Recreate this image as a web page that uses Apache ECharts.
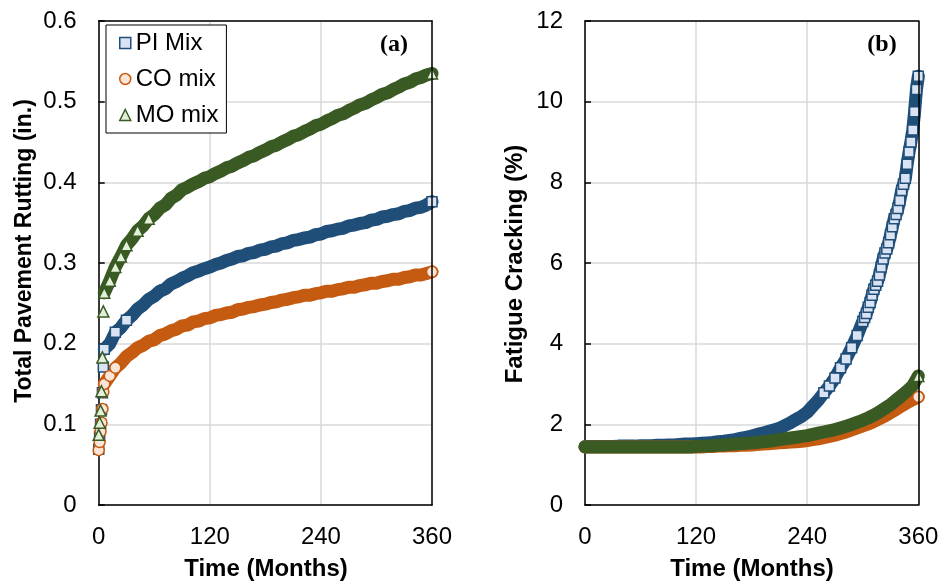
<!DOCTYPE html>
<html>
<head>
<meta charset="utf-8">
<script src="https://cdn.jsdelivr.net/npm/echarts@6.0.0/dist/echarts.min.js"></script>
<style>
html,body{margin:0;padding:0;background:#fff;}
#c{width:943px;height:584px;}
</style>
</head>
<body>
<div id="c"></div>
<script>
// ---------- DATA ----------
const seriesNames = ['PI Mix', 'CO mix', 'MO mix'];
const xTickLabels = [0, 120, 240, 360];

// (a) Total pavement rutting (in.)
const rutMonths = [0,1,2,3,4,5,6,12,18,24,30,36,42,48,54,60,66,72,78,84,90,96,102,108,114,120,126,132,138,144,150,156,162,168,174,180,186,192,198,204,210,216,222,228,234,240,246,252,258,264,270,276,282,288,294,300,306,312,318,324,330,336,342,348,354,360];
const rutPI = [0.069,0.085,0.100,0.118,0.139,0.171,0.193,
  0.200,0.214,0.220,0.229,0.235,0.243,0.248,0.255,0.259,0.265,
  0.268,0.274,0.277,0.281,0.284,0.288,0.290,0.293,0.295,0.298,
  0.300,0.303,0.305,0.308,0.309,0.312,0.313,0.316,0.317,0.320,
  0.321,0.324,0.325,0.328,0.329,0.331,0.332,0.335,0.336,0.339,
  0.340,0.342,0.343,0.346,0.347,0.349,0.350,0.353,0.354,0.357,
  0.358,0.360,0.361,0.364,0.365,0.368,0.369,0.372,0.376];
const rutCO = [0.068,0.078,0.091,0.102,0.119,0.140,0.150,
  0.160,0.170,0.176,0.184,0.189,0.195,0.198,0.203,0.205,0.210,
  0.212,0.216,0.218,0.222,0.223,0.227,0.228,0.231,0.232,0.235,
  0.236,0.238,0.239,0.242,0.243,0.245,0.246,0.248,0.249,0.251,
  0.252,0.254,0.255,0.257,0.258,0.260,0.260,0.262,0.263,0.265,
  0.265,0.267,0.268,0.270,0.270,0.272,0.273,0.275,0.275,0.277,
  0.278,0.280,0.280,0.282,0.283,0.285,0.285,0.287,0.289];
const rutMO = [0.087,0.102,0.117,0.141,0.183,0.240,0.263,
  0.278,0.295,0.308,0.322,0.330,0.340,0.346,0.355,0.360,0.368,
  0.372,0.380,0.384,0.391,0.394,0.398,0.401,0.405,0.407,0.411,
  0.414,0.418,0.420,0.424,0.427,0.431,0.433,0.437,0.440,0.444,
  0.446,0.450,0.453,0.457,0.459,0.463,0.466,0.470,0.472,0.476,
  0.479,0.483,0.485,0.489,0.492,0.496,0.498,0.502,0.505,0.509,
  0.511,0.515,0.518,0.522,0.524,0.528,0.530,0.533,0.535];

// (b) Fatigue cracking (%)
const crackMonths = [0,6,12,18,24,30,36,42,48,54,60,66,72,78,84,90,96,102,108,114,120,126,132,138,144,150,156,162,168,174,180,186,192,198,204,210,216,222,228,234,240,246,252,258,264,270,276,282,288,294,300,306,312,318,324,330,336,342,348,354,360];
const crackMonthsPI = [0,6,12,18,24,30,36,42,48,54,60,66,72,78,84,90,96,102,108,114,120,126,132,138,144,150,156,162,168,174,180,186,192,198,204,210,216,222,228,234,240,246,252,258,264,270,276,282,288,294,300,
  302,304,306,308,310,312,314,316,318,320,322,324,326,328,330,332,334,336,338,340,342,344,346,348,350,352,354,356,358,360];
const crackPI = [1.45,1.45,1.45,1.45,1.45,1.45,1.46,1.46,1.46,1.46,
  1.47,1.47,1.47,1.48,1.48,1.49,1.49,1.50,1.51,1.51,
  1.52,1.53,1.54,1.55,1.57,1.58,1.60,1.62,1.65,1.68,
  1.71,1.75,1.78,1.82,1.86,1.90,1.97,2.04,2.12,2.20,
  2.30,2.45,2.60,2.78,2.95,3.15,3.40,3.62,3.90,4.20,4.55,
  4.65,4.75,4.90,5.02,5.20,5.35,5.45,5.55,5.70,5.90,
  6.10,6.25,6.35,6.50,6.70,6.90,7.10,7.20,7.35,7.55,
  7.80,7.95,8.10,8.45,8.75,9.00,9.30,9.75,10.30,10.63];
const crackCO = [1.44,1.44,1.44,1.44,1.44,1.44,1.44,1.44,1.44,1.44,
  1.44,1.44,1.44,1.44,1.44,1.44,1.44,1.44,1.44,1.44,
  1.44,1.44,1.45,1.45,1.46,1.46,1.47,1.47,1.48,1.48,
  1.49,1.50,1.51,1.52,1.53,1.54,1.55,1.56,1.57,1.58,
  1.60,1.62,1.64,1.67,1.70,1.73,1.77,1.81,1.86,1.91,
  1.96,2.01,2.07,2.14,2.21,2.29,2.37,2.46,2.54,2.61,2.68];
const crackMO = [1.44,1.44,1.44,1.44,1.44,1.44,1.44,1.44,1.44,1.44,
  1.44,1.44,1.44,1.44,1.44,1.44,1.44,1.44,1.44,1.44,
  1.45,1.46,1.46,1.47,1.48,1.49,1.50,1.51,1.52,1.53,
  1.54,1.55,1.57,1.58,1.60,1.62,1.64,1.66,1.68,1.70,
  1.72,1.75,1.78,1.81,1.84,1.87,1.91,1.95,2.00,2.05,
  2.10,2.16,2.23,2.31,2.40,2.49,2.60,2.71,2.83,2.96,3.20];

// ---------- STYLE ----------
const FONT = '"Liberation Sans", Arial, sans-serif';
const styles = [
  {dark:'#1f4e79', light:'#dae3f3', symbol:'rect', size:10},
  {dark:'#c55a11', light:'#fbe5d6', symbol:'circle', size:11},
  {dark:'#3a5a24', light:'#e2f0d9', symbol:'triangle', size:11}
];
const G = [{left:98.7, top:21, width:333.3, height:484}, {left:585, top:21, width:333.3, height:484}];
const yMax = [0.6, 12];

function build(name, months, vals, gi, st, bandFrom) {
  const pxY = G[gi].height / yMax[gi];
  const pxX = G[gi].width / 360;
  const pts = months.map((m, i) => [m, vals[i]]);
  const band = pts.filter(p => p[0] >= bandFrom);
  const marks = pts.filter((p, i) => {
    if (i === pts.length - 1 || p[0] < bandFrom) return true;
    const j = i > 0 ? i - 1 : 1;
    const slope = Math.abs(vals[i] - vals[j]) * pxY / (Math.abs(months[i] - months[j]) * pxX);
    return slope > 1.2;
  });
  return [
    {type:'line', name:name, xAxisIndex:gi, yAxisIndex:gi, data:band, showSymbol:false, symbol:'none',
     lineStyle:{color:st.dark, width:13, cap:'round', join:'round'}, silent:true, animation:false, z:2},
    {type:'scatter', name:name, xAxisIndex:gi, yAxisIndex:gi, data:marks, symbol:st.symbol, symbolSize:st.size,
     itemStyle:{color:st.light, borderColor:st.dark, borderWidth:1.5, opacity:1}, silent:true, animation:false, z:2}
  ];
}

const series = [].concat(
  build(seriesNames[0], rutMonths, rutPI, 0, styles[0], 6),
  build(seriesNames[0], crackMonthsPI, crackPI, 1, styles[0], 0),
  build(seriesNames[1], rutMonths, rutCO, 0, styles[1], 6),
  build(seriesNames[1], crackMonths, crackCO, 1, styles[1], 0),
  build(seriesNames[2], rutMonths, rutMO, 0, styles[2], 6),
  build(seriesNames[2], crackMonths, crackMO, 1, styles[2], 0)
);

function xAx(gi) {
  return {gridIndex:gi, type:'value', min:xTickLabels[0], max:xTickLabels[xTickLabels.length-1], interval:120,
    axisLine:{show:true, onZero:false, lineStyle:{color:'#000', width:1.5}},
    axisTick:{show:false},
    axisLabel:{fontSize:24, color:'#000', margin:20, fontFamily:FONT, showMinLabel:true, showMaxLabel:true},
    splitLine:{show:true, lineStyle:{color:'#d9d9d9', width:1.5}}};
}
function yAx(gi, max, interval) {
  return {gridIndex:gi, type:'value', min:0, max:max, interval:interval,
    axisLine:{show:true, onZero:false, lineStyle:{color:'#000', width:1.5}},
    axisTick:{show:true, inside:true, length:6, lineStyle:{color:'#000', width:1.5}},
    axisLabel:{fontSize:24, color:'#000', margin:22, fontFamily:FONT, showMinLabel:true, showMaxLabel:true},
    splitLine:{show:true, lineStyle:{color:'#d9d9d9', width:1.5}}};
}
function frameX(gi) {
  return {gridIndex:gi, type:'value', position:'top', min:0, max:360, z:5,
    axisLine:{show:true, onZero:false, lineStyle:{color:'#000', width:1.5}},
    axisTick:{show:false}, axisLabel:{show:false}, splitLine:{show:false}};
}
function frameY(gi, max) {
  return {gridIndex:gi, type:'value', position:'right', min:0, max:max, z:5,
    axisLine:{show:true, onZero:false, lineStyle:{color:'#000', width:1.5}},
    axisTick:{show:false}, axisLabel:{show:false}, splitLine:{show:false}};
}

const legendData = seriesNames.map((n, i) => ({
  name:n, icon:styles[i].symbol,
  itemStyle:{color:styles[i].light, borderColor:styles[i].dark, borderWidth:1.5}
}));

const chart = echarts.init(document.getElementById('c'), null, {renderer:'canvas'});
chart.setOption({
  animation:false,
  backgroundColor:'#fff',
  grid:[
    Object.assign({containLabel:false, show:false}, G[0]),
    Object.assign({containLabel:false, show:false}, G[1])
  ],
  xAxis:[xAx(0), xAx(1), frameX(0), frameX(1)],
  yAxis:[yAx(0, 0.6, 0.1), yAx(1, 12, 2), frameY(0, 0.6), frameY(1, 12)],
  legend:{
    left:106, top:25, orient:'vertical', padding:[6, 8, 6, 13], itemGap:12,
    itemWidth:11, itemHeight:11, borderColor:'#000', borderWidth:1, backgroundColor:'#fff',
    selectedMode:false, z:10,
    textStyle:{fontSize:24, fontFamily:FONT, color:'#000', lineHeight:24},
    data:legendData
  },
  graphic:[
    {type:'text', x:25, y:251, rotation:Math.PI/2,
     style:{text:'Total Pavement Rutting (in.)', font:'bold 23px ' + FONT, fill:'#000', align:'center', verticalAlign:'middle', textAlign:'center', textVerticalAlign:'middle'}},
    {type:'text', x:515, y:264, rotation:Math.PI/2,
     style:{text:'Fatigue Cracking (%)', font:'bold 24px ' + FONT, fill:'#000', align:'center', verticalAlign:'middle', textAlign:'center', textVerticalAlign:'middle'}},
    {type:'text', x:266, y:569,
     style:{text:'Time (Months)', font:'bold 24px ' + FONT, fill:'#000', align:'center', verticalAlign:'middle', textAlign:'center', textVerticalAlign:'middle'}},
    {type:'text', x:752, y:569,
     style:{text:'Time (Months)', font:'bold 24px ' + FONT, fill:'#000', align:'center', verticalAlign:'middle', textAlign:'center', textVerticalAlign:'middle'}},
    {type:'text', x:394, y:45,
     style:{text:'(a)', font:'bold 24px "Liberation Serif", "Times New Roman", serif', fill:'#000', align:'center', verticalAlign:'middle', textAlign:'center', textVerticalAlign:'middle'}},
    {type:'text', x:882, y:45,
     style:{text:'(b)', font:'bold 24px "Liberation Serif", "Times New Roman", serif', fill:'#000', align:'center', verticalAlign:'middle', textAlign:'center', textVerticalAlign:'middle'}}
  ],
  series:series
});
</script>
</body>
</html>
